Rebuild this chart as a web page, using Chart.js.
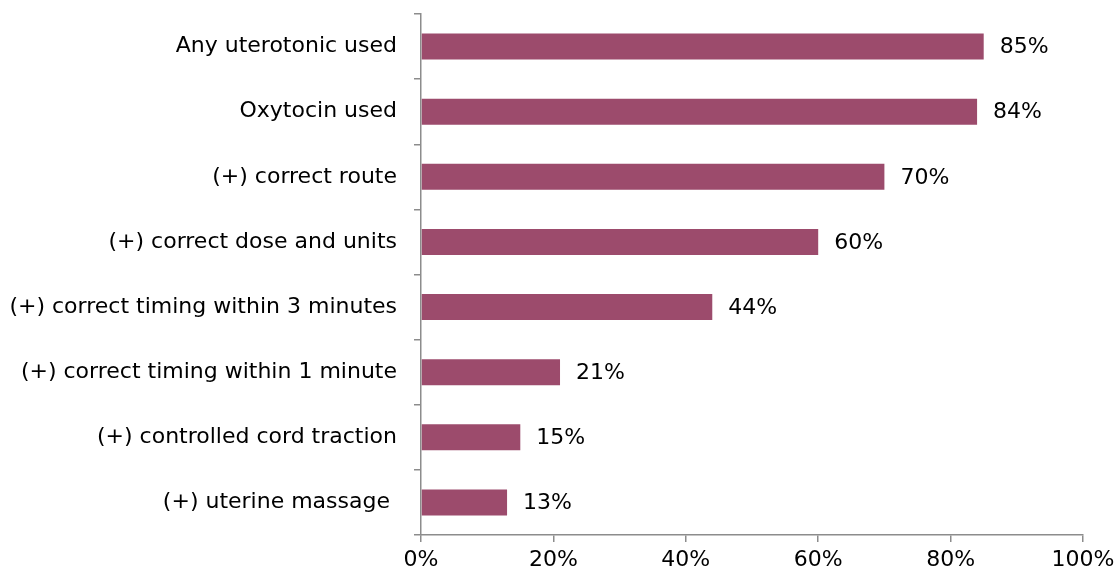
<!DOCTYPE html>
<html>
<head>
<meta charset="utf-8">
<script src="https://cdn.jsdelivr.net/npm/chart.js@4"></script>
<style>
  html,body{margin:0;padding:0;background:#fff;}
  #wrap{width:1119px;height:577px;}
</style>
</head>
<body>
<div id="wrap"><canvas id="c" width="1119" height="577"></canvas></div>
<script>
// data
const categories=['Any uterotonic used','Oxytocin used','(+) correct route','(+) correct dose and units',
  '(+) correct timing within 3 minutes','(+) correct timing within 1 minute','(+) controlled cord traction','(+) uterine massage '];
const shares=[85,84,70,60,44,21,15,13];
const xTicks=[0,20,40,60,80,100];

const BAR='#9c4b6c', AX='#8c8c8c', FONT='"DejaVu Sans", sans-serif', FS=22;

// value labels right of each bar
const valueLabels={id:'valueLabels',afterDatasetsDraw(chart){
  const ctx=chart.ctx, meta=chart.getDatasetMeta(0);
  ctx.save(); ctx.font=FS+'px '+FONT; ctx.fillStyle='#000';
  ctx.textAlign='left'; ctx.textBaseline='middle';
  meta.data.forEach((b,i)=>ctx.fillText(shares[i]+'%',b.x+16,b.y+1));
  ctx.restore();
}};

new Chart(document.getElementById('c'),{
  type:'bar',
  data:{labels:categories,datasets:[{data:shares,backgroundColor:BAR,barPercentage:0.4,categoryPercentage:1}]},
  options:{
    indexAxis:'y',responsive:false,animation:false,
    layout:{padding:{top:14,right:36,left:0,bottom:0}},
    plugins:{legend:{display:false},tooltip:{enabled:false}},
    scales:{
      x:{min:0,max:100,
        afterBuildTicks:s=>{s.ticks=xTicks.map(v=>({value:v}));},
        afterFit:s=>{s.height=42;s.paddingLeft=0;s.paddingRight=0;},
        border:{color:AX,width:1.5},
        grid:{drawOnChartArea:false,tickLength:7,color:AX,lineWidth:1.5},
        ticks:{color:'#000',font:{family:FONT,size:FS},padding:5,callback:v=>v+'%',maxRotation:0}},
      y:{afterFit:s=>{s.width=421;s.paddingTop=0;s.paddingBottom=0;},
        border:{color:AX,width:1.5},
        grid:{offset:true,drawOnChartArea:false,tickLength:7,color:AX,lineWidth:1.5},
        ticks:{color:'#000',font:{family:FONT,size:FS},padding:17}}
    }
  },
  plugins:[valueLabels]
});
</script>
</body>
</html>
